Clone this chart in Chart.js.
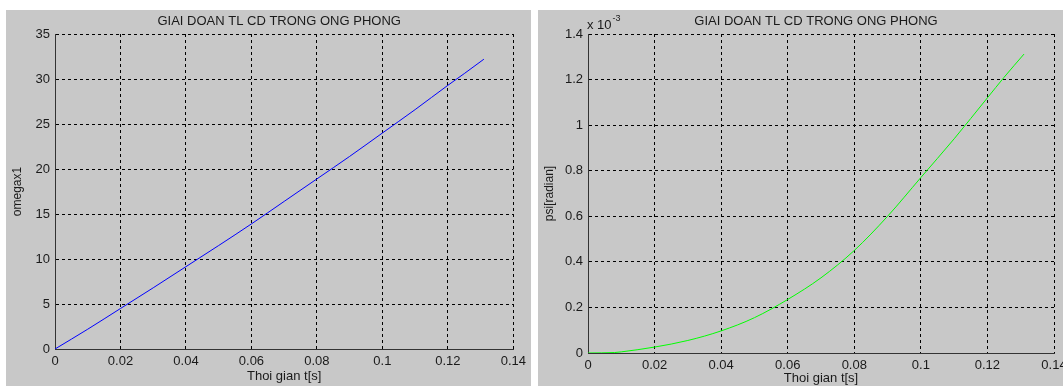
<!DOCTYPE html>
<html>
<head>
<meta charset="utf-8">
<script src="https://cdn.jsdelivr.net/npm/chart.js@4/dist/chart.umd.min.js"></script>
<style>
html, body { margin: 0; padding: 0; background: #fff; width: 1063px; height: 386px; overflow: hidden; }
.panel { position: absolute; background: #c8c8c8; }
#leftPanel { left: 6px; top: 10px; width: 525px; height: 376px; }
#rightPanel { left: 538px; top: 10px; width: 545px; height: 376px; }
canvas { display: block; }
</style>
</head>
<body>
<div class="panel" id="leftPanel"><canvas id="omegaChart" width="525" height="376"></canvas></div>
<div class="panel" id="rightPanel"><canvas id="psiChart" width="545" height="376"></canvas></div>
<script>
// values
const chartTitle = 'GIAI DOAN TL CD TRONG ONG PHONG';
const timeTicks = [0, 0.02, 0.04, 0.06, 0.08, 0.1, 0.12, 0.14];
const omegaTicks = [0, 5, 10, 15, 20, 25, 30, 35];
const psiTicks = [0, 0.2, 0.4, 0.6, 0.8, 1, 1.2, 1.4];   // x 10^-3

const omegaTime = [0, 0.01, 0.02, 0.03, 0.04, 0.05, 0.06, 0.07, 0.08, 0.09, 0.1, 0.11, 0.12, 0.125, 0.131];
const omegaValues = [0, 2.2, 4.5, 6.8, 9.15, 11.5, 13.9, 16.4, 18.9, 21.4, 24.0, 26.6, 29.3, 30.6, 32.2];

const psiTime = [0, 0.008, 0.01, 0.02, 0.03, 0.04, 0.05, 0.06, 0.07, 0.08, 0.09, 0.1, 0.11, 0.12, 0.125, 0.131];
const psiValues = [0, 0.002, 0.005, 0.026, 0.055, 0.097, 0.155, 0.235, 0.33, 0.45, 0.6, 0.77, 0.94, 1.12, 1.21, 1.312];

const FONT = '"Liberation Sans", Arial, sans-serif';
const INK = '#1a1a1a';

const fmt = v => String(Number(v.toFixed(4)));

// title and exponent note above the plot
const panelText = {
    id: 'panelText',
    afterDraw(chart, args, opts) {
        const ctx = chart.ctx;
        const a = chart.chartArea;
        ctx.save();
        ctx.fillStyle = INK;
        ctx.font = '13px ' + FONT;
        ctx.textAlign = 'center';
        ctx.fillText(opts.title, (a.left + a.right) / 2 - 5, 15);
        if (opts.exponent) {
            ctx.textAlign = 'left';
            ctx.fillText('x 10', a.left - 1, 19);
            const w = ctx.measureText('x 10').width;
            ctx.font = '9px ' + FONT;
            ctx.fillText(opts.exponent, a.left - 1 + w + 1, 11);
        }
        ctx.restore();
    }
};

function makeChart(id, times, values, color, yTicks, yTitle, yWidth, padRight, xHeight, xTitlePad, exponent) {
    const ctx = document.getElementById(id).getContext('2d');
    return new Chart(ctx, {
        type: 'line',
        data: {
            datasets: [{
                data: times.map((t, i) => ({ x: t, y: values[i] })),
                borderColor: color,
                borderWidth: 1,
                pointRadius: 0,
                cubicInterpolationMode: 'monotone',
                fill: false
            }]
        },
        options: {
            responsive: false,
            animation: false,
            events: [],
            layout: { padding: { left: 0, top: 24, right: padRight, bottom: 0 } },
            plugins: {
                legend: { display: false },
                tooltip: { enabled: false },
                panelText: { title: chartTitle, exponent: exponent }
            },
            scales: {
                x: {
                    type: 'linear',
                    min: timeTicks[0],
                    max: timeTicks[timeTicks.length - 1],
                    afterBuildTicks: s => { s.ticks = timeTicks.map(v => ({ value: v })); },
                    afterFit: s => { s.height = xHeight; },
                    grid: { color: '#000', lineWidth: 1, drawTicks: false },
                    border: { display: true, color: '#333', width: 1, dash: [3, 3] },
                    ticks: { color: INK, font: { family: FONT, size: 13 }, padding: 5, maxRotation: 0, callback: fmt },
                    title: { display: true, text: 'Thoi gian t[s]', color: INK, font: { family: FONT, size: 13 }, padding: { top: 0, bottom: xTitlePad } }
                },
                y: {
                    min: yTicks[0],
                    max: yTicks[yTicks.length - 1],
                    afterBuildTicks: s => { s.ticks = yTicks.map(v => ({ value: v })); },
                    afterFit: s => { s.width = yWidth; },
                    grid: { color: '#000', lineWidth: 1, drawTicks: false },
                    border: { display: true, color: '#333', width: 1, dash: [3, 3] },
                    ticks: { color: INK, font: { family: FONT, size: 13 }, padding: 5, callback: fmt },
                    title: { display: true, text: yTitle, color: INK, font: { family: FONT, size: 12 }, padding: { top: 4, bottom: 0 } }
                }
            }
        },
        plugins: [panelText]
    });
}

const omegaChart = makeChart('omegaChart', omegaTime, omegaValues, '#0000ff', omegaTicks, 'omegax1', 49, 16, 37, 2, null);
const psiChart = makeChart('psiChart', psiTime, psiValues, '#00ff00', psiTicks, 'psi[radian]', 50, 29, 33, 0, '-3');
</script>
</body>
</html>
